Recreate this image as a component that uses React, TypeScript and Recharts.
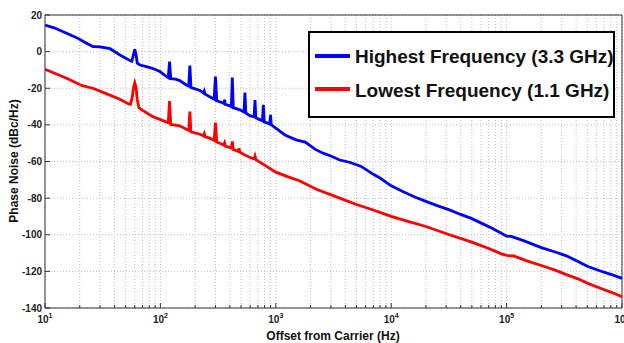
import { LineChart, Line, XAxis, YAxis, CartesianGrid, ReferenceLine, Legend } from 'recharts'

// offset frequencies (Hz) and phase noise (dBc/Hz)
const blueFreq = [
  10, 12, 15.4, 19, 21.5, 26, 30, 36.6, 44.6, 54.6, 56.5, 58.5, 60, 61.5, 63, 66.6, 77, 86, 99, 113, 117, 120, 123,
  135, 147, 168, 176, 180, 184, 200, 220, 236, 240, 244, 268, 292, 300, 308, 340, 355, 360, 365, 400, 412,
  420, 428, 488, 530, 540, 550, 596, 648, 660, 672, 720, 766, 780, 794, 850, 886, 900, 914, 1000, 1200,
  1500, 1800, 2200, 2600, 3000, 3580, 4350, 5500, 7000, 8000, 10000, 13000, 16000, 20000, 25000, 32000,
  40000, 50000, 63000, 75000, 89000, 100000, 110000, 140000, 200000, 260000, 330000, 420000, 500000,
  650000, 800000, 1000000,
]
const blueDb = [
  14.5, 13, 10, 7.5, 5.5, 2.8, 2.6, 1.6, -1.8, -4.9, -5.3, -1.5, 1.3, -1.5, -6.3, -7.3, -8.3, -9.2, -10.9, -13.6, -14.2, -5.5, -14.8,
  -15, -15.8, -18.2, -18.8, -7.6, -19.6, -20.3, -21.2, -22.6, -21.5, -23.2, -24.6, -26, -13.6, -26.8, -27.8, -28.3, -26.3, -28.8, -29.6, -30.1,
  -14.2, -30.6, -31.8, -33, -22.4, -33.5, -35, -35.6, -26.4, -36.2, -37, -37.8, -29, -38.4, -39, -39.6, -34.5, -40, -41.8, -45.5,
  -48.2, -49.4, -53.4, -55.6, -57, -59.2, -60.4, -62.7, -67, -69, -73.3, -76.8, -79.4, -81.8, -84.1, -86.4,
  -88.9, -91.2, -94.2, -96.5, -99, -100.8, -100.9, -103.2, -107, -109.3, -111.5, -114.8, -117.2,
  -119.8, -121.6, -123.8,
]

const redFreq = [
  10, 15.4, 21, 26, 36, 44.6, 53, 55, 57, 58.5, 60, 61.5, 63, 65, 68, 86, 99, 113, 117, 120, 123, 147, 168, 176, 180,
  184, 220, 236, 240, 244, 268, 292, 300, 308, 354, 360, 366, 412, 420, 428, 472, 480, 488, 540, 600, 648,
  660, 672, 800, 1000, 1300, 1600, 2250, 3580, 5000, 7000, 10000, 14000, 20000, 32000, 50000, 70000, 89000,
  100000, 115000, 150000, 200000, 260000, 330000, 420000, 500000, 650000, 800000, 1000000,
]
const redDb = [
  -9.6, -14.5, -18.6, -20, -23.6, -26, -28.6, -28.8, -25, -19.5, -17, -19.5, -26, -30.5, -31.6, -35.5, -37, -38.5, -38.8, -27, -39.8, -40.5, -42.4, -43, -32.7,
  -43.8, -45.1, -46, -44.8, -46.5, -47.2, -48.5, -38.7, -49.3, -51, -49.8, -51.6, -52.7, -49, -53.4, -54.5, -52.8, -55, -56.5, -57.8, -58.5,
  -57, -59, -62, -65.8, -68.5, -70.5, -75.2, -80, -83.5, -86.5, -90, -92.7, -95.5, -100, -104, -107.5, -110.3,
  -111.3, -111.6, -114.3, -116.8, -119.2, -121.8, -124.2, -126.4, -129.2, -131.3, -133.8,
]

const seriesNames = ['Highest Frequency (3.3 GHz)', 'Lowest Frequency (1.1 GHz)']
const seriesColors = ['#0000ff', '#ff0000']

const decades = [10, 100, 1000, 10000, 100000, 1000000]
const minorSteps = [2, 3, 4, 5, 6, 7, 8, 9]
const yTicks = [-140, -120, -100, -80, -60, -40, -20, 0, 20]

const blueData = blueFreq.map((f, i) => ({ f, v: blueDb[i] }))
const redData = redFreq.map((f, i) => ({ f, v: redDb[i] }))
const xTicks = decades.flatMap((d, i) => (i < decades.length - 1 ? [d, ...minorSteps.map((m) => d * m)] : [d]))

const font = '"Liberation Sans", Arial, sans-serif'

function XTick({ x, y, payload }: any) {
  const lg = Math.log10(payload.value)
  const exp = Math.round(lg)
  const major = Math.abs(lg - exp) < 1e-6
  return (
    <g>
      <line x1={x} x2={x} y1={y} y2={y - (major ? 5 : 3)} stroke="#333" />
      {major && (
        <text x={x} y={y + 15} textAnchor="middle" fontSize={10} fontWeight="bold" fill="#222" fontFamily={font}>
          10<tspan dy={-5} fontSize={7}>{exp}</tspan>
        </text>
      )}
    </g>
  )
}

function YTick({ x, y, payload }: any) {
  return (
    <g>
      <line x1={x} x2={x + 5} y1={y} y2={y} stroke="#333" />
      <text x={x - 3} y={y + 3.5} textAnchor="end" fontSize={10} fontWeight="bold" fill="#222" fontFamily={font}>
        {payload.value}
      </text>
    </g>
  )
}

function LegendBox() {
  return (
    <svg width={307} height={87} style={{ display: 'block' }}>
      <rect x={1} y={1} width={305} height={85} fill="#fff" stroke="#000" strokeWidth={2} />
      {seriesNames.map((name, i) => (
        <g key={name}>
          <line x1={7} x2={42} y1={25 + 33 * i} y2={25 + 33 * i} stroke={seriesColors[i]} strokeWidth={4} />
          <text x={47} y={31.5 + 34 * i} fontSize={19} fontWeight="bold" fill="#111" fontFamily={font}>
            {name}
          </text>
        </g>
      ))}
    </svg>
  )
}

export default function App() {
  return (
    <div style={{ position: 'absolute', left: 0, top: 0, width: 624, height: 343, background: '#fff', fontFamily: font }}>
      <LineChart width={624} height={343} margin={{ top: 15, right: 2, bottom: 0, left: 0 }}>
        <CartesianGrid stroke="#bdbdbd" strokeDasharray="1 2" />
        <XAxis
          dataKey="f"
          type="number"
          scale="log"
          domain={[10, 1000000]}
          ticks={xTicks}
          interval={0}
          allowDataOverflow
          tick={<XTick />}
          tickLine={false}
          tickSize={0}
          tickMargin={0}
          height={35}
          axisLine={{ stroke: '#333' }}
        />
        <YAxis
          type="number"
          domain={[-140, 20]}
          ticks={yTicks}
          interval={0}
          allowDataOverflow
          tick={<YTick />}
          tickLine={false}
          tickSize={0}
          tickMargin={0}
          width={45}
          axisLine={{ stroke: '#333' }}
        />
        <ReferenceLine y={20} stroke="#333" />
        <ReferenceLine x={1000000} stroke="#333" />
        <Line data={blueData} dataKey="v" name={seriesNames[0]} stroke={seriesColors[0]} strokeWidth={2.8} dot={false} isAnimationActive={false} />
        <Line data={redData} dataKey="v" name={seriesNames[1]} stroke={seriesColors[1]} strokeWidth={2.8} dot={false} isAnimationActive={false} />
        <Legend
          layout="vertical"
          align="center"
          verticalAlign="middle"
          wrapperStyle={{ position: 'absolute', left: 308, top: 31, width: 307, height: 87 }}
          content={() => <LegendBox />}
        />
      </LineChart>
      <div
        style={{
          position: 'absolute', left: 233, top: 330, width: 200, textAlign: 'center',
          fontSize: 12, fontWeight: 'bold', lineHeight: '12px', color: '#111',
        }}
      >
        Offset from Carrier (Hz)
      </div>
      <div
        style={{
          position: 'absolute', left: -86, top: 154, width: 200, height: 14, textAlign: 'center',
          fontSize: 12, fontWeight: 'bold', lineHeight: '14px', color: '#111', transform: 'rotate(-90deg)',
        }}
      >
        Phase Noise (dBc/Hz)
      </div>
    </div>
  )
}
